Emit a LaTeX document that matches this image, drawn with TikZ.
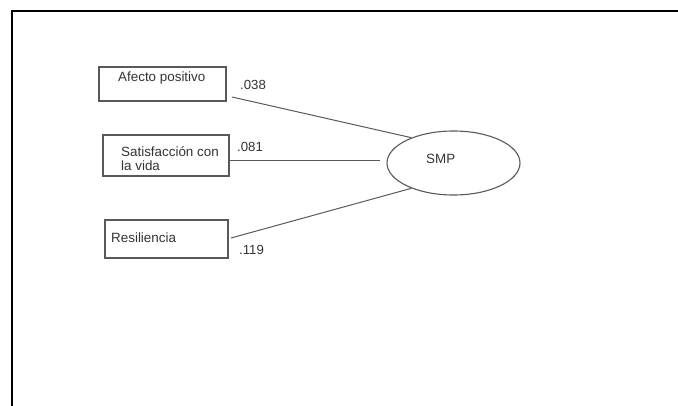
\documentclass[tikz,border=0pt]{standalone}
\usepackage{fontspec}
\setmainfont{Liberation Sans}
\usetikzlibrary{shapes.geometric}
\begin{document}
\begin{tikzpicture}[x=1pt,y=-1pt,
  varbox/.style={draw=black!65,line width=1.1pt,rectangle,inner sep=0pt},
  lbl/.style={inner sep=0pt,anchor=west,text=black!80,font=\fontsize{13.4}{14}\selectfont,align=left},
  coef/.style={inner sep=0pt,anchor=west,text=black!80,font=\fontsize{13.2}{14}\selectfont},
  path/.style={draw=black!65,line width=1pt},
  frame/.style={draw=black,line width=2pt}]
\useasboundingbox (0,0) rectangle (678,406);
\draw[frame] (12,407) -- (12,11) -- (679,11);
% boxes
\node[varbox,minimum width=127pt,minimum height=34pt] (b1) at (162.5,84) {};
\node[varbox,minimum width=126pt,minimum height=41pt] (b2) at (166,155.5) {};
\node[varbox,minimum width=123pt,minimum height=38pt] (b3) at (166.5,239) {};
\node[lbl] (t1) at (118,78) {Afecto positivo};
\node[lbl] (t2) at (121,159) {Satisfacción con\\la vida};
\node[lbl] (t3) at (111,238) {Resiliencia};
% latent
\node[draw=black!65,line width=1.1pt,ellipse,minimum width=133pt,minimum height=64pt,inner sep=0pt] (smp) at (453.5,163) {};
\node[lbl] (ts) at (426,159) {SMP};
% connector ends
\coordinate (s1) at (232,97);
\coordinate (s2) at (230,161);
\coordinate (e2) at (380,161);
\coordinate (s3) at (231,238);
\draw[path] (s1) -- (smp.149);
\draw[path] (s2) -- (e2);
\draw[path] (s3) -- (smp.211);
% coefficients
\node[coef] (c1) at (240,85) {.038};
\node[coef] (c2) at (237,147) {.081};
\node[coef] (c3) at (239,250) {.119};
\end{tikzpicture}
\end{document}
